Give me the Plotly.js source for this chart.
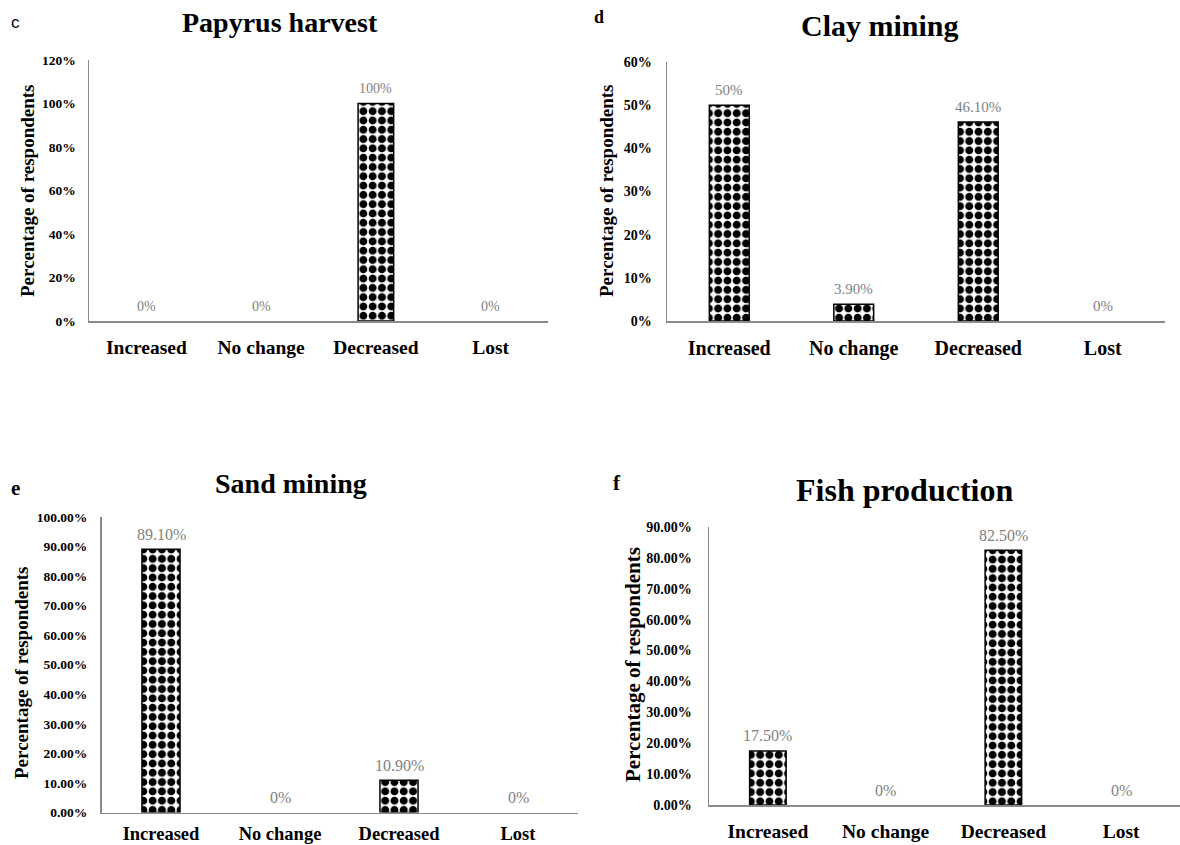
<!DOCTYPE html>
<html><head><meta charset="utf-8">
<script src="https://cdn.plot.ly/plotly-3.0.1.min.js"></script>
<style>html,body{margin:0;padding:0;background:#fff}#chart{width:1180px;height:845px}</style>
</head><body><div id="chart"></div>
<script>
// ---------- data ----------
const categories = ['Increased', 'No change', 'Decreased', 'Lost'];

const papyrusValues = [0, 0, 1.00, 0];
const papyrusLabels = ['0%', '0%', '100%', '0%'];
const papyrusTickVals = [0, 0.2, 0.4, 0.6, 0.8, 1.0, 1.2];
const papyrusTickText = ['0%', '20%', '40%', '60%', '80%', '100%', '120%'];

const clayValues = [0.50, 0.039, 0.461, 0];
const clayLabels = ['50%', '3.90%', '46.10%', '0%'];
const clayTickVals = [0, 0.1, 0.2, 0.3, 0.4, 0.5, 0.6];
const clayTickText = ['0%', '10%', '20%', '30%', '40%', '50%', '60%'];

const sandValues = [0.891, 0, 0.109, 0];
const sandLabels = ['89.10%', '0%', '10.90%', '0%'];
const sandTickVals = [0, 0.1, 0.2, 0.3, 0.4, 0.5, 0.6, 0.7, 0.8, 0.9, 1.0];
const sandTickText = ['0.00%', '10.00%', '20.00%', '30.00%', '40.00%', '50.00%', '60.00%', '70.00%', '80.00%', '90.00%', '100.00%'];

const fishValues = [0.175, 0, 0.825, 0];
const fishLabels = ['17.50%', '0%', '82.50%', '0%'];
const fishTickVals = [0, 0.1, 0.2, 0.3, 0.4, 0.5, 0.6, 0.7, 0.8, 0.9];
const fishTickText = ['0.00%', '10.00%', '20.00%', '30.00%', '40.00%', '50.00%', '60.00%', '70.00%', '80.00%', '90.00%'];

const panelTitles = ['Papyrus harvest', 'Clay mining', 'Sand mining', 'Fish production'];
const panelLetters = ['c', 'd', 'e', 'f'];
const yAxisTitle = 'Percentage of respondents';

// ---------- layout config ----------
const W = 1180, H = 845;
const SERIF = '"Liberation Serif", "Times New Roman", serif';
const SANS = '"Liberation Sans", Arial, sans-serif';
const px = v => v / W;
const py = v => 1 - v / H;

const panels = [
  {vals: papyrusValues, labels: papyrusLabels, tv: papyrusTickVals, tt: papyrusTickText, ymax: 1.2,
   x0: 89, x1: 548, yTop: 60, yBot: 321, bw: 0.31, tickFs: 13.5, ytl: 9, catFs: 19.5, xtl: 8, dataFs: 14,
   title: {x: 280, y: 22, fs: 28}, letter: {x: 15, y: 22, fs: 17, fam: SANS, bold: false},
   ytitle: {x: 27, y: 191, fs: 19}},
  {vals: clayValues, labels: clayLabels, tv: clayTickVals, tt: clayTickText, ymax: 0.6,
   x0: 667, x1: 1165, yTop: 62, yBot: 321, bw: 0.32, tickFs: 14, ytl: 11, catFs: 20, xtl: 8, dataFs: 15,
   title: {x: 880, y: 25, fs: 30}, letter: {x: 599, y: 17, fs: 18, fam: SERIF, bold: true},
   ytitle: {x: 606, y: 191, fs: 19}},
  {vals: sandValues, labels: sandLabels, tv: sandTickVals, tt: sandTickText, ymax: 1.0,
   x0: 101.5, x1: 577.5, yTop: 517, yBot: 812.5, bw: 0.32, tickFs: 13.5, ytl: 10, catFs: 18.5, xtl: 4, dataFs: 16,
   title: {x: 291, y: 483, fs: 28}, letter: {x: 15, y: 488, fs: 21, fam: SERIF, bold: true},
   ytitle: {x: 21, y: 673, fs: 19}},
  {vals: fishValues, labels: fishLabels, tv: fishTickVals, tt: fishTickText, ymax: 0.9,
   x0: 709, x1: 1180, yTop: 527, yBot: 805, bw: 0.31, tickFs: 14, ytl: 13, catFs: 19.5, xtl: 8, dataFs: 16,
   title: {x: 904, y: 490, fs: 32}, letter: {x: 617, y: 483, fs: 21, fam: SERIF, bold: true},
   ytitle: {x: 633, y: 665, fs: 21}}
];

const traces = [];
const annotations = [];
const layout = {
  width: W, height: H, autosize: false,
  margin: {l: 0, r: 0, t: 0, b: 0, pad: 0},
  paper_bgcolor: '#ffffff', plot_bgcolor: 'rgba(0,0,0,0)',
  showlegend: false,
  annotations: annotations
};

panels.forEach((p, i) => {
  const n = i + 1;
  const xa = 'xaxis' + (n === 1 ? '' : n), ya = 'yaxis' + (n === 1 ? '' : n);
  const xr = 'x' + (n === 1 ? '' : n), yr = 'y' + (n === 1 ? '' : n);
  traces.push({
    type: 'bar', x: categories, y: p.vals, xaxis: xr, yaxis: yr,
    width: p.bw, hoverinfo: 'skip',
    marker: {
      color: '#ffffff',
      line: {color: '#000000', width: p.vals.map(v => v > 0 ? 1.5 : 0)},
      pattern: {shape: '.', fgcolor: '#000000', bgcolor: '#ffffff', fgopacity: 1,
                size: 9.3, solidity: 0.58, fillmode: 'replace'}
    }
  });
  layout[xa] = {
    domain: [px(p.x0), px(p.x1)], anchor: yr,
    type: 'category', range: [-0.5, 3.5], fixedrange: true,
    showline: true, linecolor: '#8a8a8a', linewidth: 1.5,
    showgrid: false, zeroline: false,
    ticks: 'outside', ticklen: p.xtl, tickcolor: 'rgba(0,0,0,0)',
    tickfont: {family: SERIF, size: p.catFs, color: '#000000', weight: 'bold'}
  };
  layout[ya] = {
    domain: [py(p.yBot), py(p.yTop)], anchor: xr,
    range: [0, p.ymax], fixedrange: true,
    showline: true, linecolor: '#8a8a8a', linewidth: 1.5,
    showgrid: false, zeroline: false,
    tickmode: 'array', tickvals: p.tv, ticktext: p.tt,
    ticks: 'outside', ticklen: p.ytl, tickcolor: 'rgba(0,0,0,0)',
    tickfont: {family: SERIF, size: p.tickFs, color: '#000000', weight: 'bold'}
  };
  // data labels
  p.vals.forEach((v, k) => {
    annotations.push({
      x: categories[k], y: v, xref: xr, yref: yr, showarrow: false,
      text: p.labels[k], yanchor: 'middle', xanchor: 'center', yshift: 15,
      font: {family: SERIF, size: p.dataFs, color: '#7f7f7f'}
    });
  });
  // panel title
  annotations.push({
    x: px(p.title.x), y: py(p.title.y), xref: 'paper', yref: 'paper', showarrow: false,
    xanchor: 'center', yanchor: 'middle', text: panelTitles[i],
    font: {family: SERIF, size: p.title.fs, color: '#000000', weight: 'bold'}
  });
  // panel letter
  annotations.push({
    x: px(p.letter.x), y: py(p.letter.y), xref: 'paper', yref: 'paper', showarrow: false,
    xanchor: 'center', yanchor: 'middle', text: panelLetters[i],
    font: {family: p.letter.fam, size: p.letter.fs, color: '#000000', weight: p.letter.bold ? 'bold' : 'normal'}
  });
  // y axis title
  annotations.push({
    x: px(p.ytitle.x), y: py(p.ytitle.y), xref: 'paper', yref: 'paper', showarrow: false,
    xanchor: 'center', yanchor: 'middle', textangle: -90, text: yAxisTitle,
    font: {family: SERIF, size: p.ytitle.fs, color: '#000000', weight: 'bold'}
  });
});

Plotly.newPlot('chart', traces, layout, {staticPlot: true, displayModeBar: false});
</script>
</body></html>
